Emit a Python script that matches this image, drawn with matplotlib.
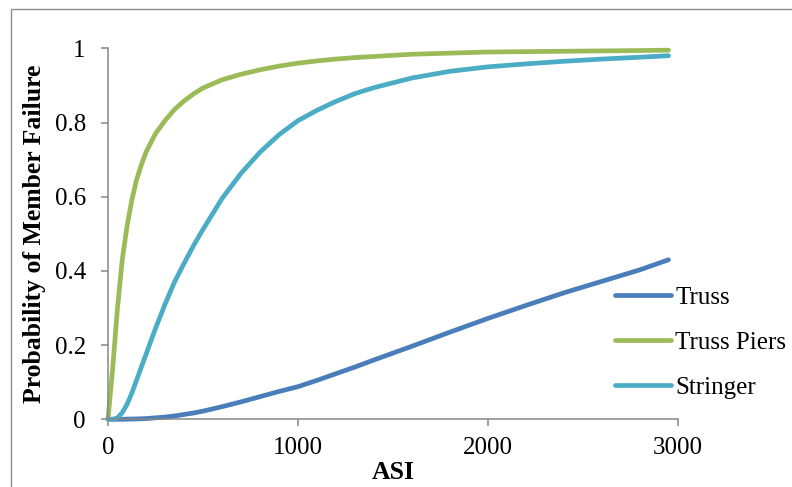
import matplotlib
matplotlib.use("Agg")
import matplotlib.pyplot as plt
from matplotlib.patches import Rectangle

# values
asi = [0, 25, 50, 75, 100, 125, 150, 175, 200, 250, 300, 350, 400, 450, 500,
       600, 700, 800, 900, 1000, 1100, 1200, 1300, 1400, 1600, 1800, 2000,
       2200, 2400, 2600, 2800, 2950]

truss = [0, 0, 0, 0, 0.0005, 0.0008, 0.001, 0.0015, 0.002, 0.004, 0.006,
         0.009, 0.013, 0.017, 0.022, 0.034, 0.047, 0.061, 0.075, 0.088, 0.105,
         0.123, 0.141, 0.16, 0.197, 0.235, 0.272, 0.307, 0.341, 0.372, 0.403,
         0.43]

truss_piers = [0, 0.14, 0.30, 0.43, 0.52, 0.59, 0.645, 0.685, 0.72, 0.77,
               0.805, 0.835, 0.858, 0.877, 0.893, 0.915, 0.93, 0.942, 0.952,
               0.96, 0.966, 0.971, 0.975, 0.978, 0.984, 0.987, 0.99, 0.991,
               0.992, 0.993, 0.994, 0.995]

stringer = [0, 0, 0.004, 0.018, 0.04, 0.07, 0.105, 0.14, 0.175, 0.245, 0.31,
            0.37, 0.42, 0.468, 0.512, 0.595, 0.663, 0.72, 0.767, 0.805, 0.833,
            0.857, 0.878, 0.894, 0.92, 0.938, 0.95, 0.958, 0.965, 0.971, 0.976,
            0.98]

series = [("Truss", truss, "#4a7ebb"),
          ("Truss Piers", truss_piers, "#9bbb59"),
          ("Stringer", stringer, "#4bacc6")]

plt.rcParams['font.family'] = ['Liberation Serif', 'DejaVu Serif']
grey = "#868686"

fig = plt.figure(figsize=(7.92, 4.87), dpi=100)
ax = fig.add_axes([108 / 792, 1 - 419.3 / 487, 570 / 792, 371 / 487])

for name, vals, col in series:
    ax.plot(asi, vals, color=col, lw=3.4, label=name, solid_capstyle='round',
            solid_joinstyle='round', clip_on=False)

ax.set_xlim(0, 3000)
ax.set_ylim(0, 1)
ax.set_xticks([0, 1000, 2000, 3000])
ax.set_yticks([0, 0.2, 0.4, 0.6, 0.8, 1])
ax.set_yticklabels(["0", "0.2", "0.4", "0.6", "0.8", "1"])
for side in ("top", "right"):
    ax.spines[side].set_visible(False)
for side in ("left", "bottom"):
    ax.spines[side].set_color(grey)
    ax.spines[side].set_linewidth(1.1)
ax.tick_params(axis='both', colors=grey, labelcolor='black', labelsize=18,
               length=5, width=1.1, direction='out')
ax.tick_params(axis='y', pad=11)
ax.tick_params(axis='x', pad=8)

ax.set_xlabel("ASI", fontsize=18.5, fontweight='bold', labelpad=1)
ax.set_ylabel("Probability of Member Failure", fontsize=18.5, fontweight='bold', labelpad=6)

ax.legend(loc='center left', bbox_to_anchor=(615 / 792, 1 - 342.5 / 487),
          bbox_transform=fig.transFigure, frameon=False, fontsize=18,
          handlelength=2.24, handletextpad=0.16, labelspacing=0.9,
          borderpad=0, borderaxespad=0)

# outer chart frame (cropped at the right and bottom)
fig.add_artist(Rectangle((10.5 / 792, -0.1), 1.2, 1.1 - 8.5 / 487,
                         transform=fig.transFigure, fill=False,
                         ec="#8c8c8c", lw=1))

fig.savefig("out.png", dpi=100)
